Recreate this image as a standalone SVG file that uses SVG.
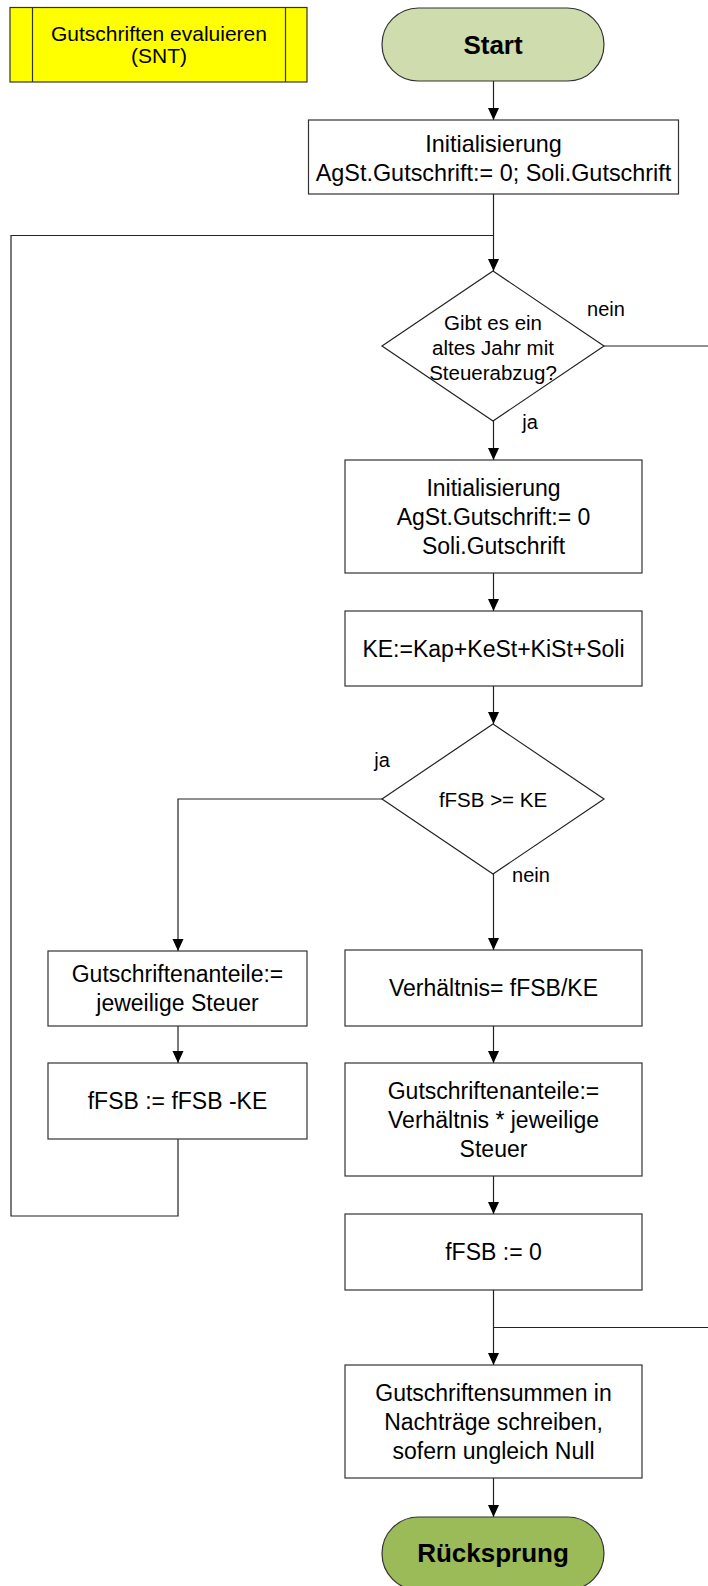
<svg xmlns="http://www.w3.org/2000/svg" width="708" height="1586" viewBox="0 0 708 1586">
  <defs>
    <marker id="arrow" viewBox="0 0 12 12" refX="12" refY="6" markerWidth="12" markerHeight="12" markerUnits="userSpaceOnUse" orient="auto">
      <path d="M0,0.5 L12,6 L0,11.5 Z" fill="#000"/>
    </marker>
    <style>
      text { font-family: "Liberation Sans", Arial, sans-serif; fill: #000; text-anchor: middle; dominant-baseline: central; }
      .box { fill: #fff; stroke: #333; stroke-width: 1.2; }
      .t { font-size: 23px; }
      .d { font-size: 20.5px; }
      .lbl { font-size: 20px; }
      .term { font-size: 26px; font-weight: bold; }
      .conn { fill: none; stroke: #222; stroke-width: 1.2; }
      .arr { marker-end: url(#arrow); }
    </style>
  </defs>
  <rect width="708" height="1586" fill="#fff"/>

  <!-- connectors -->
  <g id="connectors">
    <line class="conn arr" x1="493.5" y1="81" x2="493.5" y2="120"/>
    <line class="conn arr" x1="493.5" y1="194" x2="493.5" y2="271"/>
    <line class="conn arr" x1="493.5" y1="421" x2="493.5" y2="460"/>
    <line class="conn arr" x1="493.5" y1="573" x2="493.5" y2="611"/>
    <line class="conn arr" x1="493.5" y1="686" x2="493.5" y2="724"/>
    <line class="conn arr" x1="493.5" y1="874" x2="493.5" y2="950"/>
    <line class="conn arr" x1="493.5" y1="1026" x2="493.5" y2="1063"/>
    <line class="conn arr" x1="493.5" y1="1176" x2="493.5" y2="1214"/>
    <line class="conn arr" x1="493.5" y1="1290" x2="493.5" y2="1365"/>
    <line class="conn arr" x1="493.5" y1="1478" x2="493.5" y2="1517"/>
    <!-- ja branch of fFSB >= KE -->
    <polyline class="conn arr" points="382,799 178,799 178,951"/>
    <line class="conn arr" x1="178" y1="1026" x2="178" y2="1063"/>
    <!-- loop back to the year check -->
    <polyline class="conn" points="178,1139 178,1216 11,1216 11,235.5 493.5,235.5"/>
    <!-- nein branch of the year check -->
    <polyline class="conn" points="604,346 712,346 712,1327.5 493.5,1327.5"/>
    <!-- branch labels -->
    <text class="lbl" x="606" y="309">nein</text>
    <text class="lbl" x="530" y="422">ja</text>
    <text class="lbl" x="382" y="760">ja</text>
    <text class="lbl" x="531" y="875">nein</text>
  </g>

  <!-- title -->
  <g id="title">
    <rect x="10" y="7.5" width="297" height="74.5" fill="#ffff00" stroke="#333" stroke-width="1.2"/>
    <line x1="32.5" y1="7.5" x2="32.5" y2="82" stroke="#333" stroke-width="1.2"/>
    <line x1="285.5" y1="7.5" x2="285.5" y2="82" stroke="#333" stroke-width="1.2"/>
    <text style="font-size:21px" x="159" y="33">Gutschriften evaluieren</text>
    <text style="font-size:21px" x="159" y="55">(SNT)</text>
  </g>

  <g id="start">
    <rect x="382" y="8" width="222" height="73" rx="36.5" ry="36.5" fill="#cfdcae" stroke="#333" stroke-width="1.2"/>
    <text class="term" x="493" y="44.5">Start</text>
  </g>

  <g id="init1">
    <rect class="box" x="308.5" y="120" width="370" height="74"/>
    <text class="t" x="493.5" y="144" style="font-size:23.4px">Initialisierung</text>
    <text class="t" x="493.5" y="173" style="font-size:23.4px">AgSt.Gutschrift:= 0; Soli.Gutschrift</text>
  </g>

  <g id="year-check">
    <polygon points="493,271 604,346 493,421 382,346" fill="#fff" stroke="#222" stroke-width="1.2"/>
    <text class="d" x="493" y="322">Gibt es ein</text>
    <text class="d" x="493" y="347">altes Jahr mit</text>
    <text class="d" x="493" y="372">Steuerabzug?</text>
  </g>

  <g id="init2">
    <rect class="box" x="345" y="460" width="297" height="113"/>
    <text class="t" x="493.5" y="488">Initialisierung</text>
    <text class="t" x="493.5" y="517">AgSt.Gutschrift:= 0</text>
    <text class="t" x="493.5" y="546">Soli.Gutschrift</text>
  </g>

  <g id="ke">
    <rect class="box" x="345" y="611" width="297" height="75"/>
    <text class="t" x="493.5" y="648.5">KE:=Kap+KeSt+KiSt+Soli</text>
  </g>

  <g id="fsb-check">
    <polygon points="493,724 604,799 493,874 382,799" fill="#fff" stroke="#222" stroke-width="1.2"/>
    <text class="d" x="493" y="799">fFSB &gt;= KE</text>
  </g>

  <g id="anteile-voll">
    <rect class="box" x="48" y="951" width="259" height="75"/>
    <text class="t" x="177.5" y="974">Gutschriftenanteile:=</text>
    <text class="t" x="177.5" y="1003">jeweilige Steuer</text>
  </g>

  <g id="fsb-minus">
    <rect class="box" x="48" y="1063" width="259" height="76"/>
    <text class="t" x="177.5" y="1101">fFSB := fFSB -KE</text>
  </g>

  <g id="verhaeltnis">
    <rect class="box" x="345" y="950" width="297" height="76"/>
    <text class="t" x="493.5" y="988">Verhältnis= fFSB/KE</text>
  </g>

  <g id="anteile-teil">
    <rect class="box" x="345" y="1063" width="297" height="113"/>
    <text class="t" x="493.5" y="1091">Gutschriftenanteile:=</text>
    <text class="t" x="493.5" y="1120">Verhältnis * jeweilige</text>
    <text class="t" x="493.5" y="1149">Steuer</text>
  </g>

  <g id="fsb-null">
    <rect class="box" x="345" y="1214" width="297" height="76"/>
    <text class="t" x="493.5" y="1252">fFSB := 0</text>
  </g>

  <g id="nachtraege">
    <rect class="box" x="345" y="1365" width="297" height="113"/>
    <text class="t" x="493.5" y="1393">Gutschriftensummen in</text>
    <text class="t" x="493.5" y="1422">Nachträge schreiben,</text>
    <text class="t" x="493.5" y="1451">sofern ungleich Null</text>
  </g>

  <g id="ruecksprung">
    <rect x="382" y="1517" width="222" height="73" rx="36.5" ry="36.5" fill="#9bbb59" stroke="#333" stroke-width="1.2"/>
    <text class="term" x="493" y="1553">Rücksprung</text>
  </g>
</svg>
